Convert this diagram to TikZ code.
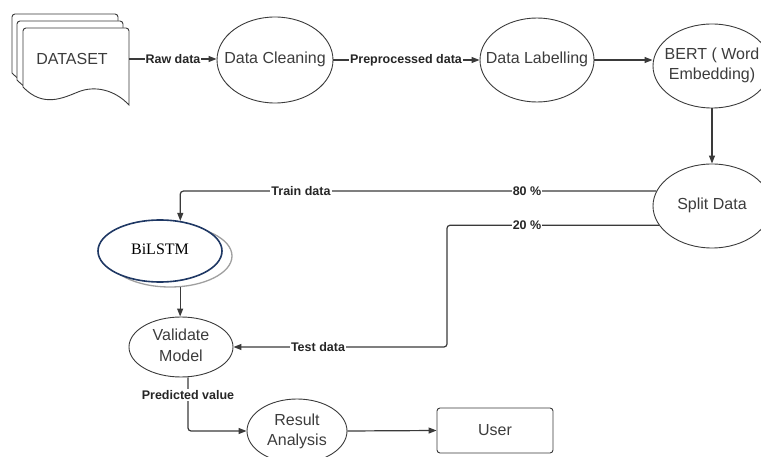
\documentclass[tikz,border=0pt]{standalone}
\usepackage{fontspec}
\setmainfont{Liberation Sans}
\newfontfamily\tnrfont{Liberation Serif}
\usetikzlibrary{shapes.geometric,arrows.meta,calc}
\definecolor{ln}{HTML}{3A3A3A}
\definecolor{txt}{HTML}{3C3C3C}
\definecolor{navy}{HTML}{1F3864}
\newcommand\zwtext[1]{\makebox[0pt]{\begin{tabular}{@{}c@{}}#1\end{tabular}}}
\begin{document}
\begin{tikzpicture}[x=1pt,y=-1pt,
  proc/.style={ellipse,draw=ln,line width=0.9pt,inner sep=0pt,text=txt,
    font=\fontsize{16}{20}\selectfont},
  conn/.style={draw=ln,line width=1.2pt,rounded corners=3pt,-{Triangle[length=8pt,width=6pt]}},
  lbl/.style={fill=white,inner sep=1pt,text=black!85,
    font=\bfseries\fontsize{12.5}{14}\selectfont},
  docpage/.pic={\draw[draw=ln,line width=0.9pt,fill=white]
     (0,40) [rounded corners=3pt] -- (0,0) -- (106,0) -- (106,40) [sharp corners]
     -- (106,77) .. controls (92,62) and (72,57) .. (55,64)
     .. controls (40,70) and (20,80) .. (0,59) -- cycle;}]
\useasboundingbox (0,0) rectangle (761,457);
\clip (0,0) rectangle (761,457);

% dataset (multi-document)
\pic at (12,14) {docpage};
\pic at (17,21) {docpage};
\pic at (23,28) {docpage};
\node[inner sep=0pt,minimum width=114pt,minimum height=20pt,text=txt,
  font=\fontsize{16}{20}\selectfont] (ds) at (72,59) {DATASET};

% process nodes
\node[proc,minimum width=116pt,minimum height=86pt] (clean) at (275,60) {\zwtext{Data Cleaning}};
\node[proc,minimum width=114pt,minimum height=84pt] (lab) at (537,60) {\zwtext{Data Labelling}};
\node[proc,minimum width=118pt,minimum height=84pt] (bert) at (712,66) {\zwtext{BERT ( Word\\Embedding)}};
\node[proc,minimum width=118pt,minimum height=84pt] (split) at (712,206) {\zwtext{Split Data}};
\node[proc,minimum width=124pt,minimum height=62pt,draw=gray!75,line width=1.3pt] (bilsh) at (170,256) {};
\node[proc,minimum width=124pt,minimum height=62pt,draw=navy,line width=1.6pt,fill=white,
  text=black,font=\tnrfont\fontsize{16}{20}\selectfont] (bil) at (160,251) {\zwtext{BiLSTM}};
\node[proc,minimum width=104pt,minimum height=60pt] (val) at (181,347) {\zwtext{Validate\\Model}};
\node[proc,minimum width=100pt,minimum height=64pt] (res) at (297,431) {\zwtext{Result\\Analysis}};
\node[draw=ln,line width=0.9pt,rounded corners=3pt,minimum width=116pt,minimum height=45pt,
  inner sep=0pt,text=txt,font=\fontsize{16}{20}\selectfont] (user) at (495,430.5) {User};

\coordinate (c20) at (447,300);

% connectors
\draw[conn] (ds.east) -- (ds.east -| clean.west);
\draw[conn] (clean.east) -- (lab.west);
\draw[conn] (lab.east) -- (lab.east -| bert.west);
\draw[conn] (bert.south) -- (split.north);
\draw[conn] (split.165) -| (bil.56);
\draw[conn] (split.200) -| (c20 |- val.east) -- (val.east);
\draw[conn] (bilsh.-72) -- (bilsh.-72 |- val.north);
\draw[conn] ($(val.south)+(7,0)$) |- (res.west);
\draw[conn] (res.east) -- (user.west);

% labels
\node[lbl] at (173,59) {Raw data};
\node[lbl] at (406,60) {Preprocessed data};
\node[lbl] at (301,191) {Train data};
\node[lbl] at (527,191) {80 \%};
\node[lbl] at (527,225) {20 \%};
\node[lbl] at (318,347) {Test data};
\node[lbl] at (188,395) {Predicted value};
\end{tikzpicture}
\end{document}
